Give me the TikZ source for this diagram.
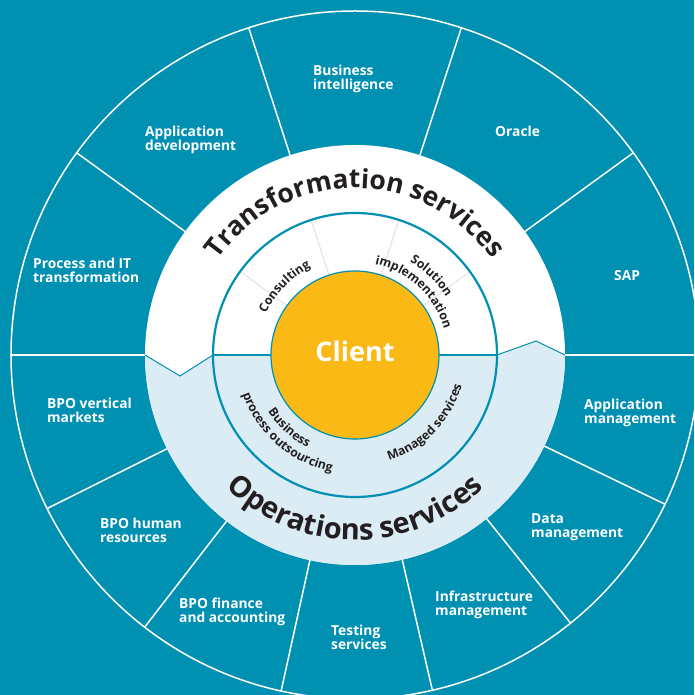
\documentclass[tikz,border=0pt]{standalone}
\usepackage{fontspec}
\setsansfont{Open Sans}
\usetikzlibrary{decorations.text}
\definecolor{ringteal}{RGB}{0,144,178}
\definecolor{paleblue}{RGB}{220,236,244}
\definecolor{clientorange}{RGB}{251,185,21}
\definecolor{inktext}{RGB}{35,31,32}
\newcommand{\spoke}[1]{ \draw[spokeline] (#1:210) -- (#1:344);}
\newcommand{\divider}[1]{ \draw[dividerline] (#1:85) -- (#1:141);}
\newcommand{\ringtext}[5]{ \path[decorate, decoration={text along path, text align=center, text color=inktext, text={|#5|#4}}] (#1:#3) arc (#1:#2:#3);}
\newcommand{\headfont}[1]{\sffamily\bfseries\fontsize{#1}{#1}\selectfont}
\newcommand{\subfont}{\sffamily\bfseries\fontsize{12.3}{12.3}\selectfont}
\tikzset{
  spokeline/.style={white, line width=1.5pt},
  dividerline/.style={gray!35, line width=1.2pt, dash pattern=on 1pt off 1pt},
  seglabel/.style={text=white, font=\sffamily\bfseries\fontsize{13.8}{14.2}\selectfont, align=left, anchor=north west, inner sep=0pt},
}

\begin{document}
\begin{tikzpicture}[x=1pt, y=1pt]
%
\fill[ringteal] (-355,-340) rectangle (339,355);
\useasboundingbox (-355,-340) rectangle (339,355);
\clip (-355,-340) rectangle (339,355);
%
\draw[white, line width=1.5pt] (0,0) circle (344);
\spoke{0}
\spoke{36}
\spoke{72}
\spoke{108}
\spoke{144}
\spoke{180}
\spoke{-25.7}
\spoke{-51.2}
\spoke{-77}
\spoke{-102.4}
\spoke{-127.7}
\spoke{-153.5}
%
\fill[white] (0,0) circle (210);
\fill[paleblue] (-210,0) -- (-175,-21) -- (-142,0) -- (142,0) -- (181,14) -- (210,0) arc (0:-180:210) -- cycle;
\draw[ringteal, line width=1pt] (-210,0) -- (-175,-21) -- (-142,0);
\draw[ringteal, line width=1pt] (142,0) -- (181,14) -- (210,0);
%
\draw[ringteal, line width=1.2pt] (-142,0) -- (-84,0);
\draw[ringteal, line width=1.2pt] (84,0) -- (142,0);
\divider{36}
\divider{72}
\divider{108}
\divider{144}
\draw[ringteal, line width=2.2pt] (0,0) circle (142);
\filldraw[fill=clientorange, draw=ringteal, line width=1.2pt] (0,0) circle (84);
\node[text=white, font=\sffamily\bfseries\fontsize{27}{27}\selectfont, inner sep=0pt] (client) at (0,4) {Client};
%
\ringtext{172}{8}{167}{Transformation services}{\headfont{26.5}}
\ringtext{-172}{-8}{185}{Operations services}{\headfont{29}}
\ringtext{172}{100}{98}{Consulting}{\subfont}
\ringtext{84}{8}{108}{Solution}{\subfont}
\ringtext{86}{8}{93}{implementation}{\subfont}
\ringtext{-90}{2}{111}{Managed services}{\subfont}
\ringtext{-180}{-84}{104}{Business}{\subfont}
\ringtext{-180}{-82}{119}{process outsourcing}{\subfont}
%
\node[seglabel] (bi) at (-42,290) {Business\\intelligence};
\node[seglabel] (appdev) at (-210,229) {Application\\development};
\node[seglabel] (procit) at (-322,97.5) {Process and IT\\transformation};
\node[seglabel] (oracle) at (140,229) {Oracle};
\node[seglabel] (sap) at (259,84.5) {SAP};
\node[seglabel] (bpovm) at (-308,-43) {BPO vertical\\markets};
\node[seglabel] (bpohr) at (-255,-163) {BPO human\\resources};
\node[seglabel] (bpofa) at (-176,-243) {BPO finance\\and accounting};
\node[seglabel] (testing) at (-24,-269.5) {Testing\\services};
\node[seglabel] (appmgmt) at (229,-44) {Application\\management};
\node[seglabel] (datamgmt) at (176,-158) {Data\\management};
\node[seglabel] (inframgmt) at (80,-236) {Infrastructure\\management};

\end{tikzpicture}
\end{document}
